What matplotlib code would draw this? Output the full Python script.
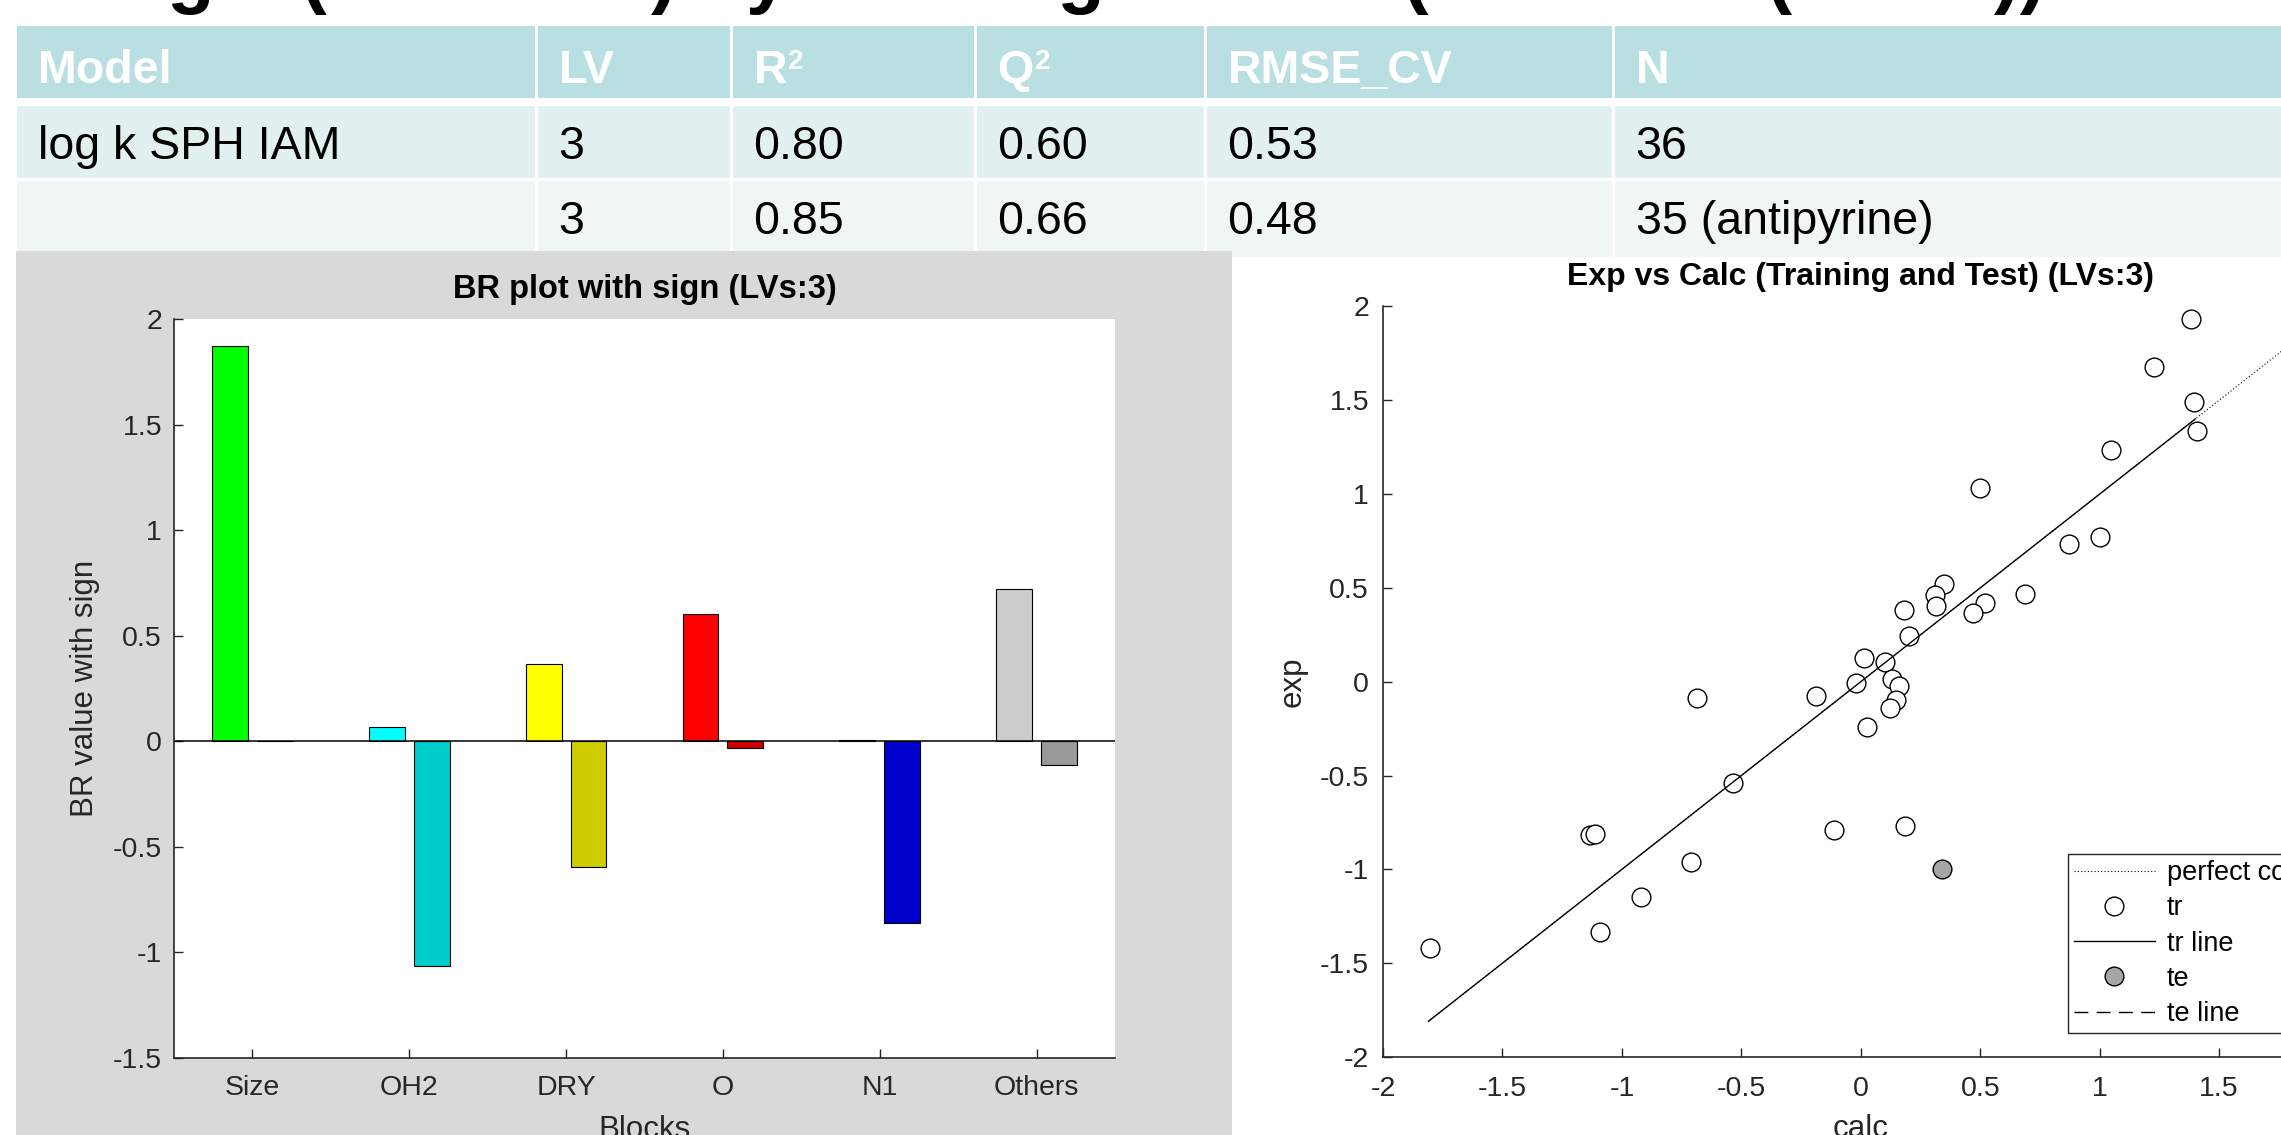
"""PLS block-regression summary: stats table, BR coefficients and exp vs calc.

Saves out.png (2281x1135).
"""

import matplotlib

matplotlib.use("Agg")
import matplotlib.pyplot as plt
import numpy as np
from matplotlib.patches import Rectangle

W, H = 2281, 1135
INK = "#262626"

plt.rcParams["font.family"] = ["Liberation Sans", "DejaVu Sans"]

slide_title = "log k (SPH IAM) by PLS regression (VolSurf+ (3 LVs))"

# model statistics table (header superscripts kept apart so they can be sized)
table_header = ["Model", "LV", "R", "Q", "RMSE_CV", "N"]
header_sup = ["", "", "2", "2", "", ""]
table_rows = [
    ["log k SPH IAM", "3", "0.80", "0.60", "0.53", "36"],
    ["", "3", "0.85", "0.66", "0.48", "35 (antipyrine)"],
]

# BR coefficients with sign, two bars per block
blocks = ["Size", "OH2", "DRY", "O", "N1", "Others"]
br_first = [1.873, 0.068, 0.368, 0.603, 0.004, 0.720]
br_second = [0.003, -1.065, -0.597, -0.034, -0.860, -0.111]
first_colors = ["#00ff00", "#00ffff", "#ffff00", "#ff0000", "#0000ff", "#cccccc"]
second_colors = ["#00cc00", "#00cccc", "#cccc00", "#cc0000", "#0000cc", "#999999"]

# experimental vs calculated, training set
tr_calc = [1.382, 1.226, 1.393, 1.407, 1.048, 0.498, 0.870, 1.001, 0.687, 0.350,
           0.309, 0.314, 0.520, 0.470, 0.181, 0.203, 0.014, 0.100, -0.022, 0.131,
           0.159, 0.147, 0.122, 0.028, -0.186, -0.687, -0.534, -0.111, 0.186, -1.132,
           -1.112, -0.709, -0.920, -1.093, -1.802]
tr_exp = [1.934, 1.678, 1.492, 1.338, 1.233, 1.032, 0.734, 0.770, 0.469, 0.523,
          0.463, 0.406, 0.418, 0.367, 0.382, 0.244, 0.126, 0.105, -0.009, 0.015,
          -0.021, -0.096, -0.141, -0.241, -0.075, -0.087, -0.541, -0.788, -0.767, -0.815,
          -0.809, -0.962, -1.149, -1.332, -1.417]
# test set
te_calc = [0.34]
te_exp = [-1.00]
# fitted training line and the y = x reference
fit_calc = [-1.81, 1.40]
fit_exp = [-1.81, 1.40]
perfect_range = [-1.81, 2.0]


def px_axes(fig, left, top, right, bottom):
    return fig.add_axes([left / W, 1 - bottom / H, (right - left) / W, (bottom - top) / H])


def matlab_style(ax, tick_pad_x, tick_pad_y):
    for side in ("top", "right"):
        ax.spines[side].set_visible(False)
    for side in ("left", "bottom"):
        ax.spines[side].set_color(INK)
        ax.spines[side].set_linewidth(1.2)
    ax.tick_params(direction="in", length=6.5, width=1.0, color=INK,
                   labelcolor=INK, labelsize=20.5)
    ax.tick_params(axis="x", pad=tick_pad_x)
    ax.tick_params(axis="y", pad=tick_pad_y)


fig = plt.figure(figsize=(W / 100, H / 100), dpi=100)
fig.patch.set_facecolor("white")

# slide layer in pixel coordinates: title, table and grey figure panel
bg = fig.add_axes([0, 0, 1, 1], zorder=-5)
bg.set_xlim(0, W)
bg.set_ylim(H, 0)
bg.axis("off")

# the slide title sits mostly above the top edge
bg.text(98, -1, slide_title, fontsize=56, fontweight="bold", va="baseline")

col_edges = [17, 536, 731, 975, 1205, 1613, W + 10]
row_bands = [(26, 98, "#b9dfe3"), (106, 178, "#e3f0f2"), (181, 257, "#f0f6f8")]
baselines = [83, 159, 234]
for r, (top, bottom, colour) in enumerate(row_bands):
    for c in range(len(col_edges) - 1):
        x0 = col_edges[c] + (0 if c == 0 else 1.5)
        x1 = col_edges[c + 1] - 1.5
        bg.add_patch(Rectangle((x0, top), x1 - x0, bottom - top, color=colour, lw=0))
        if r == 0:
            t = bg.text(x0 + 21, baselines[r], table_header[c], color="white",
                        fontsize=33.5, fontweight="bold", va="baseline")
            if header_sup[c]:
                bg.annotate(header_sup[c], xy=(1, 1), xycoords=t, xytext=(1, 0),
                            textcoords="offset points", va="top", color="white",
                            fontsize=20, fontweight="bold")
        else:
            bg.text(x0 + 21, baselines[r], table_rows[r - 1][c], color="black",
                    fontsize=33.5, va="baseline")

bg.add_patch(Rectangle((16, 251), 1232 - 16, H - 251, color="#d9d9d9", lw=0))

# BR plot
ax1 = px_axes(fig, 174, 319, 1115, 1058)
x = np.arange(1, len(blocks) + 1)
ax1.bar(x - 0.143, br_first, 0.229, color=first_colors, edgecolor="black", lw=0.8)
ax1.bar(x + 0.143, br_second, 0.229, color=second_colors, edgecolor="black", lw=0.8)
ax1.axhline(0, color="black", lw=1.1)
ax1.set_xlim(0.5, 6.5)
ax1.set_ylim(-1.5, 2)
ax1.set_xticks(x, blocks)
ax1.set_yticks(np.arange(-1.5, 2.01, 0.5), ["-1.5", "-1", "-0.5", "0", "0.5", "1", "1.5", "2"])
matlab_style(ax1, 12.5, 8.6)
ax1.set_title("BR plot with sign (LVs:3)", fontsize=23.5, fontweight="bold",
              y=1.0284, va="center")
ax1.set_ylabel("BR value with sign", fontsize=22.5, color=INK, va="center")
ax1.yaxis.set_label_coords(-0.0946, 0.5)
ax1.set_xlabel("Blocks", fontsize=22.5, color=INK, va="center")
ax1.xaxis.set_label_coords(0.5, -0.0974)

# exp vs calc plot
ax2 = px_axes(fig, 1383, 306.4, 2338.6, 1057)
ax2.plot(perfect_range, perfect_range, color="black", lw=0.8, ls=(0, (1, 2)),
         label="perfect correlation")
ax2.plot(tr_calc, tr_exp, "o", ms=13.5, mfc="white", mec="black", mew=1.0, label="tr")
ax2.plot(fit_calc, fit_exp, color="black", lw=1.0, label="tr line")
ax2.plot(te_calc, te_exp, "o", ms=13.5, mfc="#a6a6a6", mec="black", mew=1.0, label="te")
ax2.plot([], [], color="black", lw=1.0, ls=(0, (10, 6)), label="te line")
ax2.set_xlim(-2, 2)
ax2.set_ylim(-2, 2)
ticks = np.arange(-2, 2.01, 0.5)
tick_text = ["-2", "-1.5", "-1", "-0.5", "0", "0.5", "1", "1.5", "2"]
ax2.set_xticks(ticks, tick_text)
ax2.set_yticks(ticks, tick_text)
matlab_style(ax2, 13.5, 10)
ax2.set_title("Exp vs Calc (Training and Test) (LVs:3)", fontsize=23,
              fontweight="bold", y=1.0285, va="center")
ax2.set_ylabel("exp", fontsize=22.5, color=INK, va="center")
ax2.yaxis.set_label_coords(-0.0942, 0.5)
ax2.set_xlabel("calc", fontsize=22.5, color=INK, va="center")
ax2.xaxis.set_label_coords(0.5, -0.096)

leg = ax2.legend(loc="lower left", bbox_to_anchor=(2067.7 / W, 1 - 1033 / H),
                 bbox_transform=fig.transFigure, borderaxespad=0, fontsize=19.5,
                 handlelength=3.0, handletextpad=0.45, borderpad=0.22,
                 labelspacing=0.34, fancybox=False, framealpha=1)
leg.get_frame().set_edgecolor(INK)
leg.get_frame().set_linewidth(1.0)

fig.savefig("out.png", dpi=100)
